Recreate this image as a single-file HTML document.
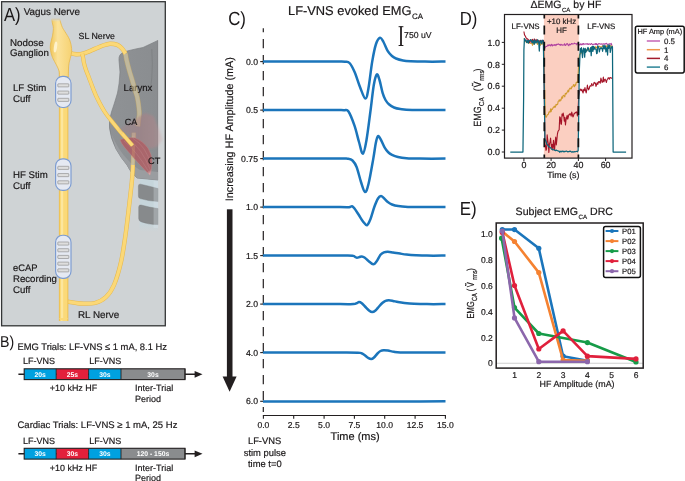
<!DOCTYPE html>
<html><head><meta charset="utf-8"><title>Figure</title>
<style>
html,body{margin:0;padding:0;background:#fff;overflow:hidden;}
svg{display:block;will-change:transform;}
text{font-family:"Liberation Sans",Arial,sans-serif;fill:#1a1718;stroke:#1a1718;stroke-width:0.18px;text-rendering:geometricPrecision;}
.big{stroke:none;}
</style></head><body>
<svg width="685" height="481" viewBox="0 0 685 481">
<rect width="685" height="481" fill="#ffffff"/>

<g id="panelA">
<rect x="1.6" y="1.7" width="163.7" height="324.1" fill="#cfd3d5" stroke="#333536" stroke-width="1.3"/>
<defs><clipPath id="clipA"><rect x="2" y="2" width="156.3" height="323"/></clipPath><linearGradient id="caGrad" x1="0" y1="0.5" x2="1" y2="0.5"><stop offset="0" stop-color="#a88086" stop-opacity="0.3"/><stop offset="0.5" stop-color="#aa7c82" stop-opacity="0.5"/><stop offset="0.8" stop-color="#b88488" stop-opacity="0.45"/><stop offset="1" stop-color="#d0a0a0" stop-opacity="0.2"/></linearGradient><linearGradient id="larGrad" x1="0" y1="0" x2="1" y2="0"><stop offset="0" stop-color="#8f9295"/><stop offset="1" stop-color="#8a8d90"/></linearGradient><linearGradient id="gangGrad" x1="0" y1="0" x2="1" y2="0"><stop offset="0" stop-color="#f0c65a"/><stop offset="0.35" stop-color="#fbe29a"/><stop offset="1" stop-color="#f6d272"/></linearGradient><linearGradient id="trGrad" x1="0" y1="0" x2="0" y2="1"><stop offset="0" stop-color="#c6d5db"/><stop offset="0.84" stop-color="#c6d5db"/><stop offset="1" stop-color="#c6d5db" stop-opacity="0"/></linearGradient><linearGradient id="fadeTop" x1="0" y1="0" x2="0" y2="1"><stop offset="0" stop-color="#d1d4d5" stop-opacity="0.9"/><stop offset="1" stop-color="#d1d4d5" stop-opacity="0"/></linearGradient><linearGradient id="ctGrad" gradientUnits="userSpaceOnUse" x1="130" y1="145" x2="150.5" y2="175.5"><stop offset="0" stop-color="#a9646a"/><stop offset="0.86" stop-color="#ab686d"/><stop offset="1" stop-color="#ead6d6"/></linearGradient></defs>
<g clip-path="url(#clipA)">
<rect x="139.6" y="176" width="18.6" height="56" fill="url(#trGrad)"/>
<path d="M138.4 186 Q138.4 183.8 140.6 184.2 Q150 186.3 158.2 188.6 L158.2 201.6 Q148 201 140.2 198.6 Q138.4 198 138.4 196 Z" fill="#878a8c" stroke="#7a7c7e" stroke-width="0.4"/>
<path d="M138.7 207 Q138.7 204.6 141 205 Q150 207.5 158.2 208.6 L158.2 224.6 Q148 224.6 141 221.8 Q138.7 220.8 138.7 218.5 Z" fill="#878a8c" stroke="#7a7c7e" stroke-width="0.4"/>
<rect x="153.6" y="178" width="4.6" height="50" fill="#dfe9ed" opacity="0.3"/>
<path d="M158 40.4 L143 47.5 Q130 50 124 52 Q118.5 54 119 60 L120 72 Q119.5 84 117.5 93 Q114 105 111.5 112 Q108.5 122 109.5 128 Q110.5 138 116 149 Q121 158 127 165 Q130 172 137 178 L158 180 Z" fill="url(#larGrad)" stroke="#7c7f82" stroke-width="0.7"/>
<path d="M151.8 49 Q152.8 65 151.8 78 Q151.2 84 150.2 88" fill="none" stroke="#76787a" stroke-width="0.6"/>
<path d="M111 133 Q118 150 128 160 Q133 166 140 170 L158 172 L158 180 L137 178 Q130 172 127 165 Q121 158 116 149 Z" fill="#9a9da0"/>
</g>
<text x="123.6" y="90.6" font-size="9.60" text-anchor="start" >Larynx</text>
<g opacity="1"><path d="M66.00 301.50 C68.33 301.83 75.17 303.25 80.00 303.50 C84.83 303.75 90.67 304.08 95.00 303.00 C99.33 301.92 102.83 300.00 106.00 297.00 C109.17 294.00 111.50 290.83 114.00 285.00 C116.50 279.17 119.08 270.33 121.00 262.00 C122.92 253.67 124.13 244.50 125.50 235.00 C126.87 225.50 128.15 213.83 129.20 205.00 C130.25 196.17 131.22 187.83 131.80 182.00 C132.38 176.17 132.52 172.83 132.70 170.00 C132.88 167.17 132.87 165.83 132.90 165.00" fill="none" stroke="#e6b84c" stroke-width="4.3" stroke-linecap="butt"/>
<path d="M66.00 301.50 C68.33 301.83 75.17 303.25 80.00 303.50 C84.83 303.75 90.67 304.08 95.00 303.00 C99.33 301.92 102.83 300.00 106.00 297.00 C109.17 294.00 111.50 290.83 114.00 285.00 C116.50 279.17 119.08 270.33 121.00 262.00 C122.92 253.67 124.13 244.50 125.50 235.00 C126.87 225.50 128.15 213.83 129.20 205.00 C130.25 196.17 131.22 187.83 131.80 182.00 C132.38 176.17 132.52 172.83 132.70 170.00 C132.88 167.17 132.87 165.83 132.90 165.00" fill="none" stroke="#fbd877" stroke-width="3.3" stroke-linecap="butt"/></g>
<g opacity="0.5"><path d="M132.90 165.00 L133.10 155.00" fill="none" stroke="#e6b84c" stroke-width="4.3" stroke-linecap="butt"/>
<path d="M132.90 165.00 L133.10 155.00" fill="none" stroke="#ffe9a8" stroke-width="3.3" stroke-linecap="butt"/></g>
<g opacity="1"><path d="M68.00 52.50 C69.33 52.80 73.33 54.17 76.00 54.30 C78.67 54.43 80.85 54.20 84.00 53.30 C87.15 52.40 91.73 50.20 94.90 48.90 C98.07 47.60 100.48 46.37 103.00 45.50 C105.52 44.63 107.62 43.80 110.00 43.70 C112.38 43.60 115.30 44.10 117.30 44.90 C119.30 45.70 120.63 47.07 122.00 48.50 C123.37 49.93 124.92 52.67 125.50 53.50" fill="none" stroke="#e6b84c" stroke-width="4.4" stroke-linecap="butt"/>
<path d="M68.00 52.50 C69.33 52.80 73.33 54.17 76.00 54.30 C78.67 54.43 80.85 54.20 84.00 53.30 C87.15 52.40 91.73 50.20 94.90 48.90 C98.07 47.60 100.48 46.37 103.00 45.50 C105.52 44.63 107.62 43.80 110.00 43.70 C112.38 43.60 115.30 44.10 117.30 44.90 C119.30 45.70 120.63 47.07 122.00 48.50 C123.37 49.93 124.92 52.67 125.50 53.50" fill="none" stroke="#fbd877" stroke-width="3.4" stroke-linecap="butt"/></g>
<g opacity="0.45"><path d="M125.50 53.50 C125.68 54.58 125.92 56.98 126.60 60.00 C127.28 63.02 128.67 68.27 129.60 71.60 C130.53 74.93 131.30 76.93 132.20 80.00 C133.10 83.07 134.17 87.17 135.00 90.00 C135.83 92.83 136.58 94.33 137.20 97.00 C137.82 99.67 138.35 103.17 138.70 106.00 C139.05 108.83 139.35 111.50 139.30 114.00 C139.25 116.50 138.63 118.95 138.40 121.00 C138.17 123.05 137.98 125.42 137.90 126.30" fill="none" stroke="#e6b84c" stroke-width="4.9" stroke-linecap="butt"/>
<path d="M125.50 53.50 C125.68 54.58 125.92 56.98 126.60 60.00 C127.28 63.02 128.67 68.27 129.60 71.60 C130.53 74.93 131.30 76.93 132.20 80.00 C133.10 83.07 134.17 87.17 135.00 90.00 C135.83 92.83 136.58 94.33 137.20 97.00 C137.82 99.67 138.35 103.17 138.70 106.00 C139.05 108.83 139.35 111.50 139.30 114.00 C139.25 116.50 138.63 118.95 138.40 121.00 C138.17 123.05 137.98 125.42 137.90 126.30" fill="none" stroke="#ffe9a8" stroke-width="3.9" stroke-linecap="butt"/></g>
<g opacity="1"><path d="M82.30 54.00 C82.45 54.67 82.93 56.53 83.20 58.00 C83.47 59.47 83.43 60.80 83.90 62.80 C84.37 64.80 85.17 67.57 86.00 70.00 C86.83 72.43 87.82 74.57 88.90 77.40 C89.98 80.23 91.12 83.53 92.50 87.00 C93.88 90.47 95.20 94.12 97.20 98.20 C99.20 102.28 101.70 107.20 104.50 111.50 C107.30 115.80 110.75 119.92 114.00 124.00 C117.25 128.08 120.92 132.42 124.00 136.00 C127.08 139.58 131.08 143.92 132.50 145.50" fill="none" stroke="#e6b84c" stroke-width="4.1" stroke-linecap="butt"/>
<path d="M82.30 54.00 C82.45 54.67 82.93 56.53 83.20 58.00 C83.47 59.47 83.43 60.80 83.90 62.80 C84.37 64.80 85.17 67.57 86.00 70.00 C86.83 72.43 87.82 74.57 88.90 77.40 C89.98 80.23 91.12 83.53 92.50 87.00 C93.88 90.47 95.20 94.12 97.20 98.20 C99.20 102.28 101.70 107.20 104.50 111.50 C107.30 115.80 110.75 119.92 114.00 124.00 C117.25 128.08 120.92 132.42 124.00 136.00 C127.08 139.58 131.08 143.92 132.50 145.50" fill="none" stroke="#fbd877" stroke-width="3.1" stroke-linecap="butt"/></g>
<g opacity="0.5"><path d="M133.80 132.70 L133.70 141.00" fill="none" stroke="#e6b84c" stroke-width="4.3" stroke-linecap="butt"/>
<path d="M133.80 132.70 L133.70 141.00" fill="none" stroke="#ffe9a8" stroke-width="3.3" stroke-linecap="butt"/></g>
<filter id="blurCA" x="-20%" y="-20%" width="140%" height="140%"><feGaussianBlur stdDeviation="0.8"/></filter>
<path d="M145 113 L153.5 116 L163 139 L157 147 L150 148.5 L135 138.5 L118.5 129.5 Z" fill="url(#caGrad)" filter="url(#blurCA)"/>
<path d="M120 139.8 Q127 136.5 135 137.8 Q143 141 148 148 Q152.3 154.5 152 163 Q151.8 170 150 175.2 Q146 171.5 140 165 Q131 155 125 148 Q121 143 120 139.8Z" fill="url(#ctGrad)" stroke="#c08a8c" stroke-width="0.4"/>
<path d="M124 141 Q136 150 149.5 173 M128 139 Q142 148 150.3 170 M133 138.5 Q146 146 151 165" fill="none" stroke="#c08a8c" stroke-width="0.5" opacity="0.75"/>
<path d="M133.6 145 L133.2 158" stroke="#d9a070" stroke-width="3" opacity="0.3"/>
<g opacity="1"><path d="M122.00 133.50 L132.50 145.50" fill="none" stroke="#e6b84c" stroke-width="4.1" stroke-linecap="butt"/>
<path d="M122.00 133.50 L132.50 145.50" fill="none" stroke="#fbd877" stroke-width="3.1" stroke-linecap="butt"/></g>
<rect x="58.9" y="60" width="9.4" height="261" fill="#e8b94a"/>
<rect x="59.7" y="60" width="7.8" height="261" fill="#fbd978"/>
<rect x="61" y="60" width="2.2" height="261" fill="#fde9a8" opacity="0.8"/>
<path d="M59 318 Q63.5 324 68.2 318Z" fill="#fbd978"/>
<path d="M51.60 19.30 C51.77 20.08 52.30 22.47 52.60 24.00 C52.90 25.53 53.42 26.53 53.40 28.50 C53.38 30.47 52.98 33.20 52.50 35.80 C52.02 38.40 50.83 41.68 50.50 44.10 C50.17 46.52 50.17 48.05 50.50 50.30 C50.83 52.55 51.52 55.17 52.50 57.60 C53.48 60.03 55.30 62.65 56.40 64.90 C57.50 67.15 58.60 69.08 59.10 71.10 C59.60 73.12 59.35 76.02 59.40 77.00 L68.3 77.0 L68.30 77.00 C68.33 75.67 68.37 71.37 68.50 69.00 C68.63 66.63 68.65 65.22 69.10 62.80 C69.55 60.38 70.78 56.92 71.20 54.50 C71.62 52.08 71.85 50.73 71.60 48.30 C71.35 45.87 70.82 42.68 69.70 39.90 C68.58 37.12 66.12 33.67 64.90 31.60 C63.68 29.53 63.08 28.93 62.40 27.50 C61.72 26.07 61.22 24.37 60.80 23.00 C60.38 21.63 60.05 19.92 59.90 19.30 Z" fill="url(#gangGrad)" stroke="#e6b84c" stroke-width="0.8"/>
<rect x="51" y="18.6" width="10.5" height="3.2" fill="url(#fadeTop)"/>
<ellipse cx="55.5" cy="47" rx="1.6" ry="5.5" fill="#fff6d8" opacity="0.85" transform="rotate(8 55.5 47)"/>
<rect x="55.6" y="76.3" width="15.4" height="31.2" rx="7" ry="7" fill="#e5e9f2" stroke="#7b9bd1" stroke-width="1.15"/>
<rect x="57.8" y="83.80" width="11" height="3.1" rx="0.5" fill="#dedede" stroke="#858585" stroke-width="0.6"/>
<rect x="57.8" y="91.05" width="11" height="3.1" rx="0.5" fill="#dedede" stroke="#858585" stroke-width="0.6"/>
<rect x="57.8" y="98.30" width="11" height="3.1" rx="0.5" fill="#dedede" stroke="#858585" stroke-width="0.6"/>
<rect x="55.6" y="158.8" width="15.4" height="31.6" rx="7" ry="7" fill="#e5e9f2" stroke="#7b9bd1" stroke-width="1.15"/>
<rect x="57.8" y="166.30" width="11" height="3.1" rx="0.5" fill="#dedede" stroke="#858585" stroke-width="0.6"/>
<rect x="57.8" y="173.55" width="11" height="3.1" rx="0.5" fill="#dedede" stroke="#858585" stroke-width="0.6"/>
<rect x="57.8" y="180.80" width="11" height="3.1" rx="0.5" fill="#dedede" stroke="#858585" stroke-width="0.6"/>
<rect x="55.6" y="235.2" width="15.4" height="43.1" rx="7" ry="7" fill="#e5e9f2" stroke="#7b9bd1" stroke-width="1.15"/>
<rect x="57.8" y="242.00" width="11" height="3.1" rx="0.5" fill="#dedede" stroke="#858585" stroke-width="0.6"/>
<rect x="57.8" y="248.70" width="11" height="3.1" rx="0.5" fill="#dedede" stroke="#858585" stroke-width="0.6"/>
<rect x="57.8" y="255.40" width="11" height="3.1" rx="0.5" fill="#dedede" stroke="#858585" stroke-width="0.6"/>
<rect x="57.8" y="262.10" width="11" height="3.1" rx="0.5" fill="#dedede" stroke="#858585" stroke-width="0.6"/>
<rect x="57.8" y="268.80" width="11" height="3.1" rx="0.5" fill="#dedede" stroke="#858585" stroke-width="0.6"/>
<text class="big" transform="translate(4.0 20.8) scale(0.875 1)" font-size="19">A)</text>
<text x="23.7" y="15.0" font-size="9.87" text-anchor="start" >Vagus Nerve</text>
<text x="78.6" y="39.3" font-size="8.80" text-anchor="start" >SL Nerve</text>
<text x="10.0" y="45.8" font-size="9.75" text-anchor="start" >Nodose</text>
<text x="10.0" y="56.4" font-size="9.70" text-anchor="start" >Ganglion</text>
<text x="13.0" y="91.2" font-size="9.65" text-anchor="start" >LF Stim</text>
<text x="13.0" y="102.4" font-size="9.65" text-anchor="start" >Cuff</text>
<text x="124.8" y="125.2" font-size="9.00" text-anchor="start" >CA</text>
<text x="148.1" y="163.6" font-size="9.20" text-anchor="start" >CT</text>
<text x="13.0" y="178.0" font-size="9.65" text-anchor="start" >HF Stim</text>
<text x="13.0" y="188.8" font-size="9.65" text-anchor="start" >Cuff</text>
<text x="13.0" y="270.8" font-size="9.40" text-anchor="start" >eCAP</text>
<text x="13.0" y="282.4" font-size="9.65" text-anchor="start" >Recording</text>
<text x="13.0" y="293.2" font-size="9.65" text-anchor="start" >Cuff</text>
<text x="78.0" y="317.5" font-size="9.87" text-anchor="start" >RL Nerve</text>
</g>
<g id="panelB">
<text class="big" transform="translate(0.1 347) scale(0.9 1)" font-size="15.8">B)</text>
<text x="17.5" y="350.4" font-size="9.40" text-anchor="start" >EMG Trials: LF-VNS ≤ 1 mA, 8.1 Hz</text>
<text x="23.0" y="364.1" font-size="9.00" text-anchor="start" >LF-VNS</text>
<text x="89.3" y="364.1" font-size="9.00" text-anchor="start" >LF-VNS</text>
<line x1="18.4" y1="374.3" x2="197" y2="374.3" stroke="#231f20" stroke-width="1.4"/>
<path d="M202.5 374.3 L194.6 370.9 L194.6 377.7 Z" fill="#231f20"/>
<rect x="24.2" y="368.8" width="32.0" height="10.8" fill="#00a1e0"/>
<rect x="56.2" y="368.8" width="32.4" height="10.8" fill="#e3203b"/>
<rect x="88.6" y="368.8" width="32.4" height="10.8" fill="#00a1e0"/>
<rect x="121.0" y="368.8" width="64.0" height="10.8" fill="#8a8c8e"/>
<rect x="24.2" y="368.8" width="160.8" height="10.8" fill="none" stroke="#231f20" stroke-width="1.1"/>
<line x1="56.2" y1="368.8" x2="56.2" y2="379.6" stroke="#231f20" stroke-width="0.9"/>
<text x="40.2" y="376.7" font-size="6.8" font-weight="bold" text-anchor="middle" style="fill:#fff;stroke:none">20s</text>
<line x1="88.6" y1="368.8" x2="88.6" y2="379.6" stroke="#231f20" stroke-width="0.9"/>
<text x="72.4" y="376.7" font-size="6.8" font-weight="bold" text-anchor="middle" style="fill:#fff;stroke:none">25s</text>
<line x1="121.0" y1="368.8" x2="121.0" y2="379.6" stroke="#231f20" stroke-width="0.9"/>
<text x="104.8" y="376.7" font-size="6.8" font-weight="bold" text-anchor="middle" style="fill:#fff;stroke:none">30s</text>
<line x1="185.0" y1="368.8" x2="185.0" y2="379.6" stroke="#231f20" stroke-width="0.9"/>
<text x="153.0" y="376.7" font-size="6.8" font-weight="bold" text-anchor="middle" style="fill:#fff;stroke:none">30s</text>
<text x="49.8" y="391.1" font-size="8.95" text-anchor="start" >+10 kHz HF</text>
<text x="135.0" y="391.1" font-size="9.00" text-anchor="start" >Inter-Trial</text>
<text x="135.0" y="401.9" font-size="9.00" text-anchor="start" >Period</text>
<text x="17.5" y="427.8" font-size="9.50" text-anchor="start" >Cardiac Trials: LF-VNS ≥ 1 mA, 25 Hz</text>
<text x="23.0" y="443.6" font-size="9.00" text-anchor="start" >LF-VNS</text>
<text x="89.3" y="443.6" font-size="9.00" text-anchor="start" >LF-VNS</text>
<line x1="18.4" y1="453.8" x2="197" y2="453.8" stroke="#231f20" stroke-width="1.4"/>
<path d="M202.5 453.8 L194.6 450.4 L194.6 457.2 Z" fill="#231f20"/>
<rect x="24.2" y="448.3" width="32.0" height="10.8" fill="#00a1e0"/>
<rect x="56.2" y="448.3" width="32.4" height="10.8" fill="#e3203b"/>
<rect x="88.6" y="448.3" width="32.4" height="10.8" fill="#00a1e0"/>
<rect x="121.0" y="448.3" width="64.0" height="10.8" fill="#8a8c8e"/>
<rect x="24.2" y="448.3" width="160.8" height="10.8" fill="none" stroke="#231f20" stroke-width="1.1"/>
<line x1="56.2" y1="448.3" x2="56.2" y2="459.1" stroke="#231f20" stroke-width="0.9"/>
<text x="40.2" y="456.2" font-size="6.8" font-weight="bold" text-anchor="middle" style="fill:#fff;stroke:none">30s</text>
<line x1="88.6" y1="448.3" x2="88.6" y2="459.1" stroke="#231f20" stroke-width="0.9"/>
<text x="72.4" y="456.2" font-size="6.8" font-weight="bold" text-anchor="middle" style="fill:#fff;stroke:none">30s</text>
<line x1="121.0" y1="448.3" x2="121.0" y2="459.1" stroke="#231f20" stroke-width="0.9"/>
<text x="104.8" y="456.2" font-size="6.8" font-weight="bold" text-anchor="middle" style="fill:#fff;stroke:none">30s</text>
<line x1="185.0" y1="448.3" x2="185.0" y2="459.1" stroke="#231f20" stroke-width="0.9"/>
<text x="153.0" y="456.2" font-size="6.8" font-weight="bold" text-anchor="middle" style="fill:#fff;stroke:none">120 - 150s</text>
<text x="49.8" y="470.6" font-size="8.95" text-anchor="start" >+10 kHz HF</text>
<text x="135.0" y="470.6" font-size="9.00" text-anchor="start" >Inter-Trial</text>
<text x="135.0" y="481.4" font-size="9.00" text-anchor="start" >Period</text>
</g>
<g id="panelC">
<text class="big" transform="translate(228.2 25.0) scale(0.885 1)" font-size="19">C)</text>
<text x="288" y="14.5" font-size="12.85">LF-VNS evoked EMG<tspan font-size="7.9" dy="4.4" dx="0.6">CA</tspan></text>
<text transform="translate(233.4 201.2) rotate(-90)" font-size="10.8">Increasing HF Amplitude (mA)</text>
<rect x="226.9" y="209.3" width="5.6" height="170" fill="#231f20"/>
<path d="M222.6 376.5 L236.6 376.5 L229.6 391.7Z" fill="#231f20"/>
<line x1="263.3" y1="28.3" x2="263.3" y2="412" stroke="#231f20" stroke-width="1.2" stroke-dasharray="9.3 6.7" stroke-dashoffset="5.3"/>
<path d="M262.8 415.5 H446 M263.4 415.5 V418.8 M293.7 415.5 V418.8 M324.1 415.5 V418.8 M354.4 415.5 V418.8 M384.7 415.5 V418.8 M415.1 415.5 V418.8 M445.4 415.5 V418.8" stroke="#231f20" stroke-width="1.1" fill="none"/>
<text x="263.4" y="427.5" font-size="8.60" text-anchor="middle" >0.0</text>
<text x="293.7" y="427.5" font-size="8.60" text-anchor="middle" >2.5</text>
<text x="324.1" y="427.5" font-size="8.60" text-anchor="middle" >5.0</text>
<text x="354.4" y="427.5" font-size="8.60" text-anchor="middle" >7.5</text>
<text x="384.7" y="427.5" font-size="8.60" text-anchor="middle" >10.0</text>
<text x="415.0" y="427.5" font-size="8.60" text-anchor="middle" >12.5</text>
<text x="445.4" y="427.5" font-size="8.60" text-anchor="middle" >15.0</text>
<text x="330.6" y="439.8" font-size="11.00" text-anchor="start" >Time (ms)</text>
<text x="264.6" y="444.2" font-size="9.40" text-anchor="middle" >LF-VNS</text>
<text x="264.8" y="455.6" font-size="9.40" text-anchor="middle" >stim pulse</text>
<text x="264.8" y="466.6" font-size="9.40" text-anchor="middle" >time t=0</text>
<path d="M401 26.6 V45.6" stroke="#231f20" stroke-width="1.8" fill="none"/><path d="M398.6 26.7 H403.4 M398.6 45.5 H403.4" stroke="#231f20" stroke-width="1" fill="none"/>
<text x="404.1" y="37.8" font-size="8.70" text-anchor="start" >750 uV</text>
<line x1="260.2" y1="61.6" x2="263.4" y2="61.6" stroke="#231f20" stroke-width="1.1"/>
<text x="258.0" y="64.7" font-size="8.70" text-anchor="end" >0.0</text>
<line x1="260.2" y1="110.1" x2="263.4" y2="110.1" stroke="#231f20" stroke-width="1.1"/>
<text x="258.0" y="113.2" font-size="8.70" text-anchor="end" >0.5</text>
<line x1="260.2" y1="158.6" x2="263.4" y2="158.6" stroke="#231f20" stroke-width="1.1"/>
<text x="258.0" y="161.7" font-size="8.70" text-anchor="end" >0.75</text>
<line x1="260.2" y1="207.1" x2="263.4" y2="207.1" stroke="#231f20" stroke-width="1.1"/>
<text x="258.0" y="210.2" font-size="8.70" text-anchor="end" >1.0</text>
<line x1="260.2" y1="255.6" x2="263.4" y2="255.6" stroke="#231f20" stroke-width="1.1"/>
<text x="258.0" y="258.7" font-size="8.70" text-anchor="end" >1.5</text>
<line x1="260.2" y1="304.1" x2="263.4" y2="304.1" stroke="#231f20" stroke-width="1.1"/>
<text x="258.0" y="307.2" font-size="8.70" text-anchor="end" >2.0</text>
<line x1="260.2" y1="352.6" x2="263.4" y2="352.6" stroke="#231f20" stroke-width="1.1"/>
<text x="258.0" y="355.7" font-size="8.70" text-anchor="end" >4.0</text>
<line x1="260.2" y1="401.3" x2="263.4" y2="401.3" stroke="#231f20" stroke-width="1.1"/>
<text x="258.0" y="404.4" font-size="8.70" text-anchor="end" >6.0</text>
<path d="M263.00 61.60 C269.17 61.60 288.00 61.60 300.00 61.60 C312.00 61.60 327.50 61.58 335.00 61.60 C342.50 61.62 342.58 61.47 345.00 61.70 C347.42 61.93 347.90 61.28 349.50 63.00 C351.10 64.72 352.85 68.00 354.60 72.00 C356.35 76.00 358.20 82.57 360.00 87.00 C361.80 91.43 363.98 98.43 365.40 98.60 C366.82 98.77 367.37 94.17 368.50 88.00 C369.63 81.83 370.95 68.93 372.20 61.60 C373.45 54.27 374.68 47.98 376.00 44.00 C377.32 40.02 378.85 38.03 380.10 37.70 C381.35 37.37 382.22 39.75 383.50 42.00 C384.78 44.25 386.38 48.87 387.80 51.20 C389.22 53.53 390.63 54.78 392.00 56.00 C393.37 57.22 394.17 57.75 396.00 58.50 C397.83 59.25 400.55 60.05 403.00 60.50 C405.45 60.95 407.03 61.02 410.70 61.20 C414.37 61.38 419.20 61.53 425.00 61.60 C430.80 61.67 442.08 61.60 445.50 61.60" fill="none" stroke="#1b75bb" stroke-width="2.5" stroke-linecap="butt" stroke-linejoin="round"/>
<path d="M263.00 110.10 C269.17 110.10 288.00 110.10 300.00 110.10 C312.00 110.10 327.67 110.08 335.00 110.10 C342.33 110.12 341.75 109.97 344.00 110.20 C346.25 110.43 346.75 108.92 348.50 111.50 C350.25 114.08 352.75 120.62 354.50 125.70 C356.25 130.78 357.60 137.32 359.00 142.00 C360.40 146.68 361.65 154.13 362.90 153.80 C364.15 153.47 365.22 147.30 366.50 140.00 C367.78 132.70 369.38 119.17 370.60 110.00 C371.82 100.83 372.77 90.92 373.80 85.00 C374.83 79.08 375.85 75.33 376.80 74.50 C377.75 73.67 378.53 76.95 379.50 80.00 C380.47 83.05 381.60 89.47 382.60 92.80 C383.60 96.13 384.45 98.10 385.50 100.00 C386.55 101.90 387.48 102.95 388.90 104.20 C390.32 105.45 392.10 106.70 394.00 107.50 C395.90 108.30 397.30 108.58 400.30 109.00 C403.30 109.42 404.47 109.82 412.00 110.00 C419.53 110.18 439.92 110.08 445.50 110.10" fill="none" stroke="#1b75bb" stroke-width="2.5" stroke-linecap="butt" stroke-linejoin="round"/>
<path d="M263.00 158.60 C269.17 158.60 287.17 158.60 300.00 158.60 C312.83 158.60 332.00 158.58 340.00 158.60 C348.00 158.62 345.92 158.38 348.00 158.70 C350.08 159.02 351.07 159.12 352.50 160.50 C353.93 161.88 355.18 163.42 356.60 167.00 C358.02 170.58 359.60 177.83 361.00 182.00 C362.40 186.17 363.75 191.67 365.00 192.00 C366.25 192.33 367.12 189.57 368.50 184.00 C369.88 178.43 372.08 165.43 373.30 158.60 C374.52 151.77 375.02 146.75 375.80 143.00 C376.58 139.25 377.13 136.60 378.00 136.10 C378.87 135.60 379.88 138.08 381.00 140.00 C382.12 141.92 383.53 145.60 384.70 147.60 C385.87 149.60 386.78 150.80 388.00 152.00 C389.22 153.20 390.33 153.97 392.00 154.80 C393.67 155.63 395.58 156.43 398.00 157.00 C400.42 157.57 402.83 157.93 406.50 158.20 C410.17 158.47 413.50 158.53 420.00 158.60 C426.50 158.67 441.25 158.60 445.50 158.60" fill="none" stroke="#1b75bb" stroke-width="2.5" stroke-linecap="butt" stroke-linejoin="round"/>
<path d="M263.00 207.10 C269.17 207.10 287.17 207.10 300.00 207.10 C312.83 207.10 331.83 207.08 340.00 207.10 C348.17 207.12 347.00 207.35 349.00 207.20 C351.00 207.05 351.08 205.98 352.00 206.20 C352.92 206.42 353.38 207.07 354.50 208.50 C355.62 209.93 357.28 212.63 358.70 214.80 C360.12 216.97 361.62 219.77 363.00 221.50 C364.38 223.23 365.75 225.62 367.00 225.20 C368.25 224.78 369.28 222.03 370.50 219.00 C371.72 215.97 373.05 210.42 374.30 207.00 C375.55 203.58 376.88 200.32 378.00 198.50 C379.12 196.68 380.00 196.13 381.00 196.10 C382.00 196.07 382.87 197.32 384.00 198.30 C385.13 199.28 386.47 200.97 387.80 202.00 C389.13 203.03 390.27 203.82 392.00 204.50 C393.73 205.18 395.53 205.70 398.20 206.10 C400.87 206.50 404.37 206.73 408.00 206.90 C411.63 207.07 413.75 207.07 420.00 207.10 C426.25 207.13 441.25 207.10 445.50 207.10" fill="none" stroke="#1b75bb" stroke-width="2.5" stroke-linecap="butt" stroke-linejoin="round"/>
<path d="M263.00 255.60 C269.17 255.60 287.17 255.60 300.00 255.60 C312.83 255.60 331.25 255.58 340.00 255.60 C348.75 255.62 350.00 255.50 352.50 255.70 C355.00 255.90 354.25 256.47 355.00 256.80 C355.75 257.13 356.25 257.67 357.00 257.70 C357.75 257.73 358.70 257.20 359.50 257.00 C360.30 256.80 360.97 256.42 361.80 256.50 C362.63 256.58 363.38 256.75 364.50 257.50 C365.62 258.25 367.03 259.87 368.50 261.00 C369.97 262.13 371.97 264.22 373.30 264.30 C374.63 264.38 375.30 263.08 376.50 261.50 C377.70 259.92 379.25 256.32 380.50 254.80 C381.75 253.28 382.78 252.90 384.00 252.40 C385.22 251.90 386.30 251.78 387.80 251.80 C389.30 251.82 390.97 252.20 393.00 252.50 C395.03 252.80 397.75 253.27 400.00 253.60 C402.25 253.93 403.83 254.23 406.50 254.50 C409.17 254.77 412.58 255.02 416.00 255.20 C419.42 255.38 422.08 255.53 427.00 255.60 C431.92 255.67 442.42 255.60 445.50 255.60" fill="none" stroke="#1b75bb" stroke-width="2.5" stroke-linecap="butt" stroke-linejoin="round"/>
<path d="M263.00 304.10 C269.17 304.10 287.17 304.10 300.00 304.10 C312.83 304.10 331.08 304.10 340.00 304.10 C348.92 304.10 350.75 304.23 353.50 304.10 C356.25 303.97 355.58 303.63 356.50 303.30 C357.42 302.97 358.17 302.15 359.00 302.10 C359.83 302.05 360.50 302.27 361.50 303.00 C362.50 303.73 363.75 305.25 365.00 306.50 C366.25 307.75 367.80 309.57 369.00 310.50 C370.20 311.43 371.12 312.10 372.20 312.10 C373.28 312.10 374.37 311.43 375.50 310.50 C376.63 309.57 377.82 307.78 379.00 306.50 C380.18 305.22 381.52 303.75 382.60 302.80 C383.68 301.85 384.45 301.22 385.50 300.80 C386.55 300.38 387.65 300.28 388.90 300.30 C390.15 300.32 391.48 300.62 393.00 300.90 C394.52 301.18 396.10 301.67 398.00 302.00 C399.90 302.33 401.73 302.62 404.40 302.90 C407.07 303.18 410.23 303.50 414.00 303.70 C417.77 303.90 421.75 304.03 427.00 304.10 C432.25 304.17 442.42 304.10 445.50 304.10" fill="none" stroke="#1b75bb" stroke-width="2.5" stroke-linecap="butt" stroke-linejoin="round"/>
<path d="M263.00 352.60 C269.17 352.60 287.17 352.60 300.00 352.60 C312.83 352.60 330.33 352.58 340.00 352.60 C349.67 352.62 354.42 352.58 358.00 352.70 C361.58 352.82 360.42 352.92 361.50 353.30 C362.58 353.68 363.42 354.25 364.50 355.00 C365.58 355.75 366.88 357.12 368.00 357.80 C369.12 358.48 370.20 359.15 371.20 359.10 C372.20 359.05 372.95 358.43 374.00 357.50 C375.05 356.57 376.42 354.58 377.50 353.50 C378.58 352.42 379.47 351.55 380.50 351.00 C381.53 350.45 382.45 350.27 383.70 350.20 C384.95 350.13 386.28 350.33 388.00 350.60 C389.72 350.87 391.95 351.50 394.00 351.80 C396.05 352.10 396.80 352.27 400.30 352.40 C403.80 352.53 407.47 352.57 415.00 352.60 C422.53 352.63 440.42 352.60 445.50 352.60" fill="none" stroke="#1b75bb" stroke-width="2.5" stroke-linecap="butt" stroke-linejoin="round"/>
<path d="M263.00 401.40 C269.17 401.42 287.17 401.47 300.00 401.50 C312.83 401.53 326.67 401.60 340.00 401.60 C353.33 401.60 366.67 401.52 380.00 401.50 C393.33 401.48 409.08 401.53 420.00 401.50 C430.92 401.47 441.25 401.33 445.50 401.30" fill="none" stroke="#1b75bb" stroke-width="2.5" stroke-linecap="butt" stroke-linejoin="round"/>
</g>
<g id="panelD">
<text class="big" transform="translate(459.7 24.7) scale(0.875 1)" font-size="19">D)</text>
<text x="530.6" y="7.8" font-size="10.5">ΔEMG<tspan font-size="6.1" dy="3.7" dx="0.4">CA</tspan><tspan dy="-3.7"> by HF</tspan></text>
<rect x="543.9" y="14.2" width="34.9" height="144" fill="#fbcfc1"/>
<path d="M523.90 38.79 L524.51 38.97 L525.13 40.25 L525.74 40.79 L526.35 41.68 L526.97 41.31 L527.58 40.33 L528.19 41.08 L528.80 40.64 L529.42 41.41 L530.03 41.34 L530.64 41.57 L531.26 43.22 L531.87 41.04 L532.48 41.36 L533.10 41.38 L533.71 43.31 L534.32 43.36 L534.94 42.62 L535.55 42.25 L536.16 41.58 L536.78 41.89 L537.39 41.39 L538.00 42.41 L538.62 41.58 L539.23 41.50 L539.84 42.43 L540.45 40.35 L541.07 41.36 L541.68 40.80 L542.29 42.40 L542.91 42.50 L543.52 42.15 L544.34 49.69 L544.95 47.67 L545.56 46.85 L546.18 46.56 L546.79 46.40 L547.40 45.87 L548.02 44.73 L548.63 45.71 L549.24 45.04 L549.86 44.87 L550.47 45.87 L551.08 44.98 L551.69 44.26 L552.31 46.05 L552.92 45.09 L553.53 44.94 L554.15 45.31 L554.76 44.56 L555.37 44.84 L555.99 45.58 L556.60 44.30 L557.21 44.37 L557.83 44.19 L558.44 43.89 L559.05 44.46 L559.67 44.57 L560.28 45.32 L560.89 44.25 L561.50 44.89 L562.12 44.78 L562.73 45.20 L563.34 45.02 L563.96 44.75 L564.57 43.73 L565.18 45.52 L565.80 45.19 L566.41 44.23 L567.02 43.55 L567.64 44.00 L568.25 45.33 L568.86 45.64 L569.48 44.04 L570.09 44.62 L570.70 44.80 L571.31 43.63 L571.93 43.54 L572.54 44.03 L573.15 43.96 L573.77 43.83 L574.38 43.17 L574.99 43.68 L575.61 43.71 L576.22 43.67 L576.83 44.80 L577.45 43.22 L578.06 43.37 L578.67 43.92 L579.29 45.02 L579.90 44.43 L580.51 43.78 L581.12 44.95 L581.74 44.23 L582.35 43.71 L582.96 44.73 L583.58 43.45 L584.19 43.91 L584.80 44.22 L585.42 44.01 L586.03 43.87 L586.64 44.10 L587.26 43.65 L587.87 44.44 L588.48 44.34 L589.10 43.70 L589.71 44.14 L590.32 44.54 L590.94 43.74 L591.55 43.51 L592.16 44.35 L592.77 44.76 L593.39 44.21 L594.00 44.22 L594.61 44.28 L595.23 43.54 L595.84 44.60 L596.45 43.60 L597.07 44.71 L597.68 44.50 L598.29 43.88 L598.91 43.66 L599.52 43.78 L600.13 44.00 L600.75 44.09 L601.36 44.09 L601.97 43.90 L602.58 44.23 L603.20 44.03 L603.81 43.90 L604.42 44.15 L605.04 43.82 L605.65 43.91 L606.26 43.27 L606.88 44.01 L607.49 44.34 L608.10 44.32 L608.72 44.16 L609.33 43.75 L609.94 44.30 L610.56 43.98 L611.17 43.35 L611.78 45.28 L612.46 45.28" fill="none" stroke="#b0409f" stroke-width="1.1" stroke-linejoin="round"/>
<path d="M523.90 38.45 L524.51 39.24 L525.13 40.37 L525.74 41.32 L526.35 42.42 L526.97 41.80 L527.58 42.33 L528.19 43.17 L528.80 40.67 L529.42 42.54 L530.03 43.37 L530.64 43.00 L531.26 43.12 L531.87 42.99 L532.48 45.33 L533.10 43.37 L533.71 42.06 L534.32 43.97 L534.94 43.00 L535.55 42.11 L536.16 42.20 L536.78 41.64 L537.39 44.44 L538.00 43.26 L538.62 43.25 L539.23 42.40 L539.84 41.99 L540.45 45.30 L541.07 41.99 L541.68 44.22 L542.29 42.35 L542.91 44.26 L543.52 42.79 L544.34 75.28 L545.15 112.54 L545.70 116.98 L546.25 117.22 L546.79 116.11 L547.33 114.81 L547.88 114.64 L548.42 114.12 L548.97 111.99 L549.51 111.72 L550.06 112.20 L550.61 108.86 L551.15 111.60 L551.69 109.13 L552.24 109.50 L552.78 108.50 L553.33 107.35 L553.88 107.13 L554.42 106.12 L554.96 107.39 L555.51 106.74 L556.05 104.25 L556.60 105.00 L557.14 104.44 L557.69 104.21 L558.23 101.19 L558.78 101.03 L559.32 99.79 L559.87 101.29 L560.41 99.86 L560.96 100.26 L561.50 97.98 L562.05 96.66 L562.59 98.24 L563.14 95.49 L563.68 95.40 L564.23 95.83 L564.77 96.81 L565.32 93.26 L565.86 93.99 L566.41 93.85 L566.95 92.39 L567.50 91.79 L568.04 90.26 L568.59 91.89 L569.13 89.42 L569.68 88.53 L570.22 87.99 L570.77 88.84 L571.31 88.76 L571.86 86.65 L572.40 86.87 L572.95 86.29 L573.49 84.58 L574.04 85.49 L574.58 86.71 L575.13 84.47 L575.67 85.19 L576.22 82.29 L576.76 82.16 L577.31 82.42 L577.85 81.33 L578.67 64.32 L579.22 56.65 L579.76 53.95 L580.38 53.86 L580.99 52.69 L581.60 53.00 L582.22 51.97 L582.83 51.32 L583.44 50.87 L584.05 51.76 L584.67 50.57 L585.28 51.75 L585.89 51.01 L586.51 51.21 L587.12 49.27 L587.73 50.28 L588.35 49.36 L588.96 49.23 L589.57 48.92 L590.19 49.03 L590.80 48.38 L591.41 47.34 L592.03 48.12 L592.64 47.69 L593.25 47.28 L593.86 47.79 L594.48 48.23 L595.09 47.72 L595.70 46.70 L596.32 48.07 L596.93 47.39 L597.54 46.40 L598.16 46.42 L598.77 46.76 L599.38 46.23 L600.00 46.50 L600.61 47.15 L601.22 47.29 L601.84 46.71 L602.45 45.79 L603.06 46.54 L603.67 46.67 L604.29 46.54 L604.90 46.90 L605.51 46.08 L606.13 46.61 L606.74 45.72 L607.35 47.17 L607.97 45.66 L608.58 46.15 L609.19 46.83 L609.81 45.33 L610.42 45.85 L611.03 46.89 L611.65 46.12 L612.46 46.12" fill="none" stroke="#d19a2e" stroke-width="1.1" stroke-linejoin="round"/>
<path d="M523.90 31.51 L524.51 34.90 L525.13 35.74 L525.74 37.13 L526.35 38.17 L526.97 39.15 L527.58 38.75 L528.19 39.68 L528.80 40.10 L529.42 42.50 L530.03 40.01 L530.64 39.73 L531.26 41.20 L531.87 41.39 L532.48 39.31 L533.10 42.57 L533.71 40.64 L534.32 38.93 L534.94 41.88 L535.55 40.47 L536.16 39.42 L536.78 41.18 L537.39 40.59 L538.00 40.29 L538.62 41.88 L539.23 41.16 L539.84 40.83 L540.45 40.36 L541.07 41.11 L541.68 41.26 L542.29 41.98 L542.91 41.40 L543.52 40.30 L544.34 97.20 L544.88 144.33 L545.43 145.69 L546.00 150.42 L546.57 148.93 L547.14 134.92 L547.72 139.87 L548.29 143.96 L548.86 152.55 L549.43 144.09 L550.01 142.08 L550.58 138.10 L551.15 144.69 L551.72 147.84 L552.29 144.38 L552.87 150.04 L553.44 140.27 L554.01 145.06 L554.58 149.92 L555.16 141.70 L555.73 137.11 L556.30 144.91 L556.87 139.72 L557.44 133.81 L558.02 131.41 L558.59 130.56 L559.16 129.69 L559.73 116.75 L560.31 117.55 L560.88 124.05 L561.45 124.26 L562.02 113.96 L562.60 116.02 L563.17 113.00 L563.74 116.04 L564.31 121.29 L564.88 117.28 L565.46 124.96 L566.03 120.03 L566.60 117.48 L567.17 115.29 L567.75 119.11 L568.32 116.85 L568.89 114.65 L569.46 114.63 L570.03 113.49 L570.61 114.62 L571.18 116.09 L571.75 112.14 L572.32 114.29 L572.90 116.89 L573.47 115.95 L574.04 113.61 L574.61 113.68 L575.18 112.52 L575.76 112.76 L576.33 111.89 L576.90 112.63 L577.47 116.04 L578.05 110.24 L578.67 97.20 L579.49 91.72 L580.03 88.95 L580.65 89.79 L581.26 90.64 L581.87 89.29 L582.49 91.52 L583.10 92.91 L583.71 89.24 L584.33 90.74 L584.94 87.57 L585.55 90.52 L586.17 92.99 L586.78 89.96 L587.39 85.13 L588.01 88.33 L588.62 89.82 L589.23 88.51 L589.85 86.02 L590.46 85.82 L591.07 86.14 L591.68 83.60 L592.30 84.73 L592.91 85.76 L593.52 84.44 L594.14 82.34 L594.75 83.30 L595.36 82.96 L595.98 86.41 L596.59 84.53 L597.20 82.75 L597.82 84.31 L598.43 81.67 L599.04 82.26 L599.66 81.47 L600.27 83.20 L600.88 78.12 L601.49 80.17 L602.11 82.48 L602.72 81.70 L603.33 77.07 L603.95 81.98 L604.56 79.60 L605.17 79.17 L605.79 80.64 L606.40 82.46 L607.01 79.84 L607.63 79.30 L608.24 77.70 L608.85 78.07 L609.47 79.16 L610.08 77.46 L610.69 77.77 L611.30 78.11 L611.92 78.14 L612.46 78.14" fill="none" stroke="#a51428" stroke-width="1.1" stroke-linejoin="round"/>
<path d="M510.27 152.00 L522.95 152.00 L523.63 97.20 L523.90 50.07 L524.44 38.62 L525.02 39.90 L525.59 40.87 L526.16 40.35 L526.73 42.68 L527.31 42.05 L527.88 40.31 L528.45 43.11 L529.02 40.81 L529.60 40.62 L530.17 40.63 L530.74 39.74 L531.31 40.06 L531.88 42.14 L532.46 42.86 L533.03 40.56 L533.60 41.58 L534.17 44.49 L534.75 39.98 L535.32 42.85 L535.89 41.03 L536.46 41.30 L537.03 42.99 L537.61 39.75 L538.18 40.77 L538.75 42.75 L539.32 51.08 L539.90 41.53 L540.47 40.76 L541.04 42.12 L541.61 43.55 L542.18 40.10 L542.76 40.77 L543.33 40.89 L544.34 97.20 L544.88 138.85 L545.43 140.15 L546.11 141.73 L546.79 144.06 L547.47 144.78 L548.15 145.95 L548.83 146.77 L549.51 147.03 L550.20 147.60 L550.88 147.92 L551.56 149.28 L552.24 149.53 L552.92 149.34 L553.60 149.71 L554.28 150.02 L554.97 150.13 L555.65 150.63 L556.33 150.16 L557.01 150.46 L557.69 150.78 L558.37 151.14 L559.05 151.02 L559.73 152.22 L560.41 151.53 L561.10 151.14 L561.78 151.87 L562.46 151.17 L563.14 151.23 L563.82 151.94 L564.50 151.47 L565.18 151.53 L565.87 151.21 L566.55 151.17 L567.23 151.47 L567.91 151.84 L568.59 151.54 L569.27 151.52 L569.95 151.18 L570.63 151.38 L571.31 151.83 L572.00 152.11 L572.68 151.69 L573.36 151.86 L574.04 152.02 L574.72 151.59 L575.40 151.76 L576.08 151.50 L576.76 151.32 L577.45 151.73 L578.13 150.53 L578.67 119.12 L579.22 73.09 L579.76 59.94 L580.31 48.70 L580.85 52.07 L581.40 47.73 L581.94 52.04 L582.49 57.52 L583.03 50.35 L583.58 48.10 L584.12 49.61 L584.67 57.16 L585.21 48.29 L585.76 52.44 L586.30 50.14 L586.85 50.89 L587.39 48.93 L587.94 47.33 L588.48 48.83 L589.03 51.28 L589.57 51.69 L590.12 50.92 L590.66 47.51 L591.21 55.67 L591.75 47.31 L592.30 46.37 L592.84 51.33 L593.39 46.31 L593.93 49.69 L594.48 47.23 L595.02 48.61 L595.57 49.12 L596.11 49.35 L596.66 53.60 L597.20 53.18 L597.75 45.90 L598.29 46.96 L598.84 47.61 L599.38 51.89 L599.93 48.73 L600.47 48.55 L601.02 47.65 L601.56 48.55 L602.11 48.61 L602.65 51.26 L603.20 45.41 L603.74 48.29 L604.29 48.83 L604.83 45.45 L605.38 46.55 L605.92 51.82 L606.47 50.06 L607.01 47.33 L607.56 55.01 L608.10 44.97 L608.65 48.36 L609.19 47.70 L609.74 45.02 L610.28 52.45 L610.83 49.27 L611.37 47.38 L611.92 46.68 L612.46 46.68 L613.14 152.00 L626.09 152.00" fill="none" stroke="#0d667b" stroke-width="1.25" stroke-linejoin="round"/>
<line x1="544.3" y1="14.2" x2="544.3" y2="158" stroke="#111" stroke-width="1.7" stroke-dasharray="9 7.1" stroke-dashoffset="4.7"/>
<line x1="578.4" y1="14.2" x2="578.4" y2="158" stroke="#111" stroke-width="1.7" stroke-dasharray="9 7.1" stroke-dashoffset="4.7"/>
<rect x="504.5" y="14.5" width="127.5" height="143.6" fill="none" stroke="#231f20" stroke-width="1.2"/>
<line x1="501.8" y1="152.0" x2="504.5" y2="152.0" stroke="#231f20" stroke-width="1"/>
<text x="499.9" y="155.2" font-size="8.90" text-anchor="end" >0.0</text>
<line x1="501.8" y1="130.1" x2="504.5" y2="130.1" stroke="#231f20" stroke-width="1"/>
<text x="499.9" y="133.3" font-size="8.90" text-anchor="end" >0.2</text>
<line x1="501.8" y1="108.2" x2="504.5" y2="108.2" stroke="#231f20" stroke-width="1"/>
<text x="499.9" y="111.4" font-size="8.90" text-anchor="end" >0.4</text>
<line x1="501.8" y1="86.2" x2="504.5" y2="86.2" stroke="#231f20" stroke-width="1"/>
<text x="499.9" y="89.4" font-size="8.90" text-anchor="end" >0.6</text>
<line x1="501.8" y1="64.3" x2="504.5" y2="64.3" stroke="#231f20" stroke-width="1"/>
<text x="499.9" y="67.5" font-size="8.90" text-anchor="end" >0.8</text>
<line x1="501.8" y1="42.4" x2="504.5" y2="42.4" stroke="#231f20" stroke-width="1"/>
<text x="499.9" y="45.6" font-size="8.90" text-anchor="end" >1.0</text>
<line x1="523.9" y1="158" x2="523.9" y2="161" stroke="#231f20" stroke-width="1"/>
<text x="523.9" y="167.6" font-size="8.90" text-anchor="middle" >0</text>
<line x1="551.1" y1="158" x2="551.1" y2="161" stroke="#231f20" stroke-width="1"/>
<text x="551.1" y="167.6" font-size="8.90" text-anchor="middle" >20</text>
<line x1="578.4" y1="158" x2="578.4" y2="161" stroke="#231f20" stroke-width="1"/>
<text x="578.4" y="167.6" font-size="8.90" text-anchor="middle" >40</text>
<line x1="605.6" y1="158" x2="605.6" y2="161" stroke="#231f20" stroke-width="1"/>
<text x="605.6" y="167.6" font-size="8.90" text-anchor="middle" >60</text>
<text x="563.4" y="177.5" font-size="8.90" text-anchor="middle" >Time (s)</text>
<text transform="translate(481.3 126.7) rotate(-90) scale(0.860 1)" font-size="10.4">EMG</text>
<text transform="translate(484.2 106.0) rotate(-90) scale(0.860 1)" font-size="7.2">CA</text>
<text transform="translate(481.3 91.3) rotate(-90) scale(0.860 1)" font-size="10.4">(</text>
<text transform="translate(481.3 87.4) rotate(-90) scale(0.860 1)" font-size="10.4">Ṽ</text>
<text transform="translate(484.2 80.8) rotate(-90) scale(0.860 1)" font-size="7.2">rms</text>
<text transform="translate(481.3 71.4) rotate(-90) scale(0.860 1)" font-size="10.4">)</text>
<text x="525.6" y="29.2" font-size="7.90" text-anchor="middle" >LF-VNS</text>
<text x="601.3" y="29.2" font-size="7.90" text-anchor="middle" >LF-VNS</text>
<text x="561.6" y="24.2" font-size="7.90" text-anchor="middle" >+10 kHz</text>
<text x="561.6" y="33.4" font-size="7.90" text-anchor="middle" >HF</text>
<rect x="635.4" y="26.3" width="48.8" height="46.6" rx="1.8" fill="#fff" stroke="#111" stroke-width="1.5"/>
<text x="659.8" y="33.8" font-size="7.40" text-anchor="middle" >HF Amp (mA)</text>
<line x1="646.8" y1="41.0" x2="660" y2="41.0" stroke="#c565b5" stroke-width="1.5"/>
<text x="664.0" y="43.8" font-size="7.90" text-anchor="start" >0.5</text>
<line x1="646.8" y1="49.7" x2="660" y2="49.7" stroke="#f0964a" stroke-width="1.5"/>
<text x="664.0" y="52.5" font-size="7.90" text-anchor="start" >1</text>
<line x1="646.8" y1="58.4" x2="660" y2="58.4" stroke="#a31c2c" stroke-width="1.5"/>
<text x="664.0" y="61.2" font-size="7.90" text-anchor="start" >4</text>
<line x1="646.8" y1="67.1" x2="660" y2="67.1" stroke="#2b8496" stroke-width="1.5"/>
<text x="664.0" y="69.9" font-size="7.90" text-anchor="start" >6</text>
</g>
<g id="panelE">
<text class="big" transform="translate(459.8 214.9) scale(0.89 1)" font-size="19">E)</text>
<text x="515.6" y="215" font-size="10.6">Subject EMG<tspan font-size="6.2" dy="3.7" dx="0.4">CA</tspan><tspan dy="-3.7"> DRC</tspan></text>
<line x1="496.5" y1="363.3" x2="643" y2="363.3" stroke="#cfcfcf" stroke-width="1.1"/>
<path d="M502.35 229.55 L514.50 229.55 L538.80 248.34 L563.10 356.17 L587.40 360.71" fill="none" stroke="#1b75bb" stroke-width="2.6" stroke-linejoin="round"/>
<circle cx="502.3" cy="229.6" r="2.6" fill="#1b75bb"/>
<circle cx="514.5" cy="229.6" r="2.6" fill="#1b75bb"/>
<circle cx="538.8" cy="248.3" r="2.6" fill="#1b75bb"/>
<circle cx="563.1" cy="356.2" r="2.6" fill="#1b75bb"/>
<circle cx="587.4" cy="360.7" r="2.6" fill="#1b75bb"/>
<path d="M502.35 231.63 L514.50 241.48 L538.80 272.58 L563.10 360.06 L587.40 360.71" fill="none" stroke="#f58231" stroke-width="2.6" stroke-linejoin="round"/>
<circle cx="502.3" cy="231.6" r="2.6" fill="#f58231"/>
<circle cx="514.5" cy="241.5" r="2.6" fill="#f58231"/>
<circle cx="538.8" cy="272.6" r="2.6" fill="#f58231"/>
<circle cx="563.1" cy="360.1" r="2.6" fill="#f58231"/>
<circle cx="587.4" cy="360.7" r="2.6" fill="#f58231"/>
<path d="M501.62 238.24 L514.50 307.57 L538.80 333.49 L587.40 342.56 L636.00 362.00" fill="none" stroke="#169b48" stroke-width="2.6" stroke-linejoin="round"/>
<circle cx="501.6" cy="238.2" r="2.6" fill="#169b48"/>
<circle cx="514.5" cy="307.6" r="2.6" fill="#169b48"/>
<circle cx="538.8" cy="333.5" r="2.6" fill="#169b48"/>
<circle cx="587.4" cy="342.6" r="2.6" fill="#169b48"/>
<circle cx="636.0" cy="362.0" r="2.6" fill="#169b48"/>
<path d="M502.35 232.40 L514.50 285.54 L538.80 349.04 L563.10 330.90 L587.40 356.17 L636.00 358.89" fill="none" stroke="#e0203c" stroke-width="2.6" stroke-linejoin="round"/>
<circle cx="502.3" cy="232.4" r="2.6" fill="#e0203c"/>
<circle cx="514.5" cy="285.5" r="2.6" fill="#e0203c"/>
<circle cx="538.8" cy="349.0" r="2.6" fill="#e0203c"/>
<circle cx="563.1" cy="330.9" r="2.6" fill="#e0203c"/>
<circle cx="587.4" cy="356.2" r="2.6" fill="#e0203c"/>
<circle cx="636.0" cy="358.9" r="2.6" fill="#e0203c"/>
<path d="M502.35 231.11 L514.50 317.94 L538.80 361.74 L587.40 361.74" fill="none" stroke="#8c67ac" stroke-width="2.6" stroke-linejoin="round"/>
<circle cx="502.3" cy="231.1" r="2.6" fill="#8c67ac"/>
<circle cx="514.5" cy="317.9" r="2.6" fill="#8c67ac"/>
<circle cx="538.8" cy="361.7" r="2.6" fill="#8c67ac"/>
<circle cx="587.4" cy="361.7" r="2.6" fill="#8c67ac"/>
<rect x="496.2" y="223" width="147" height="145.1" fill="none" stroke="#231f20" stroke-width="1.5"/>
<text x="492.8" y="366.4" font-size="8.50" text-anchor="end" >0</text>
<text x="492.8" y="340.5" font-size="8.50" text-anchor="end" >0.2</text>
<text x="492.8" y="314.6" font-size="8.50" text-anchor="end" >0.4</text>
<text x="492.8" y="288.6" font-size="8.50" text-anchor="end" >0.6</text>
<text x="492.8" y="262.7" font-size="8.50" text-anchor="end" >0.8</text>
<text x="492.8" y="236.8" font-size="8.50" text-anchor="end" >1.0</text>
<text x="514.5" y="377.5" font-size="8.50" text-anchor="middle" >1</text>
<text x="538.8" y="377.5" font-size="8.50" text-anchor="middle" >2</text>
<text x="563.1" y="377.5" font-size="8.50" text-anchor="middle" >3</text>
<text x="587.4" y="377.5" font-size="8.50" text-anchor="middle" >4</text>
<text x="611.7" y="377.5" font-size="8.50" text-anchor="middle" >5</text>
<text x="636.0" y="377.5" font-size="8.50" text-anchor="middle" >6</text>
<text x="539.6" y="386.6" font-size="8.90" text-anchor="start" >HF Amplitude (mA)</text>
<text transform="translate(474.4 318.6) rotate(-90) scale(0.750 1)" font-size="10.2">EMG</text>
<text transform="translate(477.1 301.1) rotate(-90) scale(0.750 1)" font-size="7.4">CA</text>
<text transform="translate(474.4 291.3) rotate(-90) scale(0.750 1)" font-size="10.2">(</text>
<text transform="translate(474.4 287.3) rotate(-90) scale(0.750 1)" font-size="10.2">Ṽ</text>
<text transform="translate(477.1 279.7) rotate(-90) scale(0.750 1)" font-size="7.4">rms</text>
<text transform="translate(474.4 270.7) rotate(-90) scale(0.750 1)" font-size="10.2">)</text>
<rect x="603.6" y="226.6" width="36.8" height="50.8" rx="2" fill="#fff" stroke="#111" stroke-width="1.5"/>
<line x1="605.6" y1="231.0" x2="618.4" y2="231.0" stroke="#1b75bb" stroke-width="2"/>
<circle cx="612" cy="231.0" r="2.1" fill="#1b75bb"/>
<text x="622.0" y="233.8" font-size="7.70" text-anchor="start" >P01</text>
<line x1="605.6" y1="241.1" x2="618.4" y2="241.1" stroke="#f58231" stroke-width="2"/>
<circle cx="612" cy="241.1" r="2.1" fill="#f58231"/>
<text x="622.0" y="243.9" font-size="7.70" text-anchor="start" >P02</text>
<line x1="605.6" y1="251.1" x2="618.4" y2="251.1" stroke="#169b48" stroke-width="2"/>
<circle cx="612" cy="251.1" r="2.1" fill="#169b48"/>
<text x="622.0" y="253.9" font-size="7.70" text-anchor="start" >P03</text>
<line x1="605.6" y1="261.1" x2="618.4" y2="261.1" stroke="#e0203c" stroke-width="2"/>
<circle cx="612" cy="261.1" r="2.1" fill="#e0203c"/>
<text x="622.0" y="263.9" font-size="7.70" text-anchor="start" >P04</text>
<line x1="605.6" y1="271.2" x2="618.4" y2="271.2" stroke="#8c67ac" stroke-width="2"/>
<circle cx="612" cy="271.2" r="2.1" fill="#8c67ac"/>
<text x="622.0" y="274.0" font-size="7.70" text-anchor="start" >P05</text>
</g>
</svg></body></html>
